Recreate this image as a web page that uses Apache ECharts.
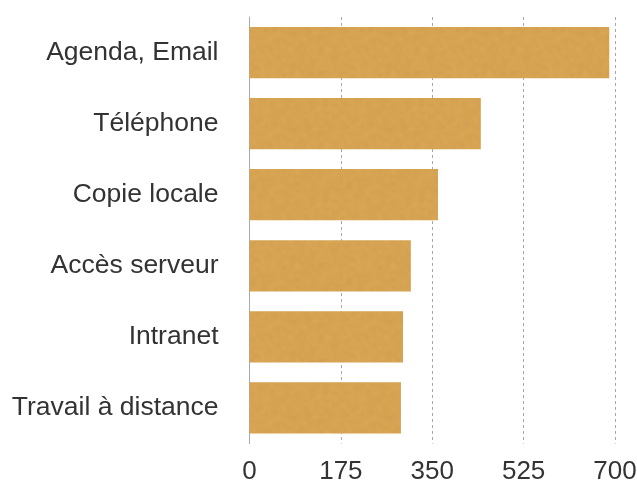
<!DOCTYPE html>
<html>
<head>
<meta charset="utf-8">
<script src="https://cdn.jsdelivr.net/npm/echarts@6/dist/echarts.min.js"></script>
<style>
  html, body { margin: 0; padding: 0; background: #fff; }
  #chart { width: 637px; height: 481px; }
</style>
</head>
<body>
<div id="chart"></div>
<script>
// Usage categories, top to bottom
const categories = ['Agenda, Email', 'Téléphone', 'Copie locale', 'Accès serveur', 'Intranet', 'Travail à distance'];
// Count per category
const values = [689, 443, 361, 309, 294, 290];
// Value axis ticks
const tickValues = [0, 175, 350, 525, 700];

// Mottled paper-like fill for the bars (deterministic hash noise, softened)
function makeBarTexture() {
  const size = 96;
  const raw = document.createElement('canvas');
  raw.width = raw.height = size;
  const rc = raw.getContext('2d');
  const img = rc.createImageData(size, size);
  const hash = (x, y) => {
    const s = Math.sin(x * 127.1 + y * 311.7) * 43758.5453;
    return s - Math.floor(s);
  };
  for (let y = 0; y < size; y++) {
    for (let x = 0; x < size; x++) {
      const n = hash(x, y) - 0.5;
      const i = (y * size + x) * 4;
      img.data[i] = 213 + n * 22;
      img.data[i + 1] = 163 + n * 20;
      img.data[i + 2] = 82 + n * 16;
      img.data[i + 3] = 255;
    }
  }
  rc.putImageData(img, 0, 0);
  const out = document.createElement('canvas');
  out.width = out.height = size;
  const oc = out.getContext('2d');
  oc.fillStyle = '#D5A352';
  oc.fillRect(0, 0, size, size);
  oc.filter = 'blur(1.5px)';
  for (let dx = -1; dx <= 1; dx++) {
    for (let dy = -1; dy <= 1; dy++) {
      oc.drawImage(raw, dx * size, dy * size);
    }
  }
  return out;
}

const chart = echarts.init(document.getElementById('chart'), null, { renderer: 'canvas' });

const fontFamily = '"Liberation Sans", Helvetica, Arial, sans-serif';

chart.setOption({
  animation: false,
  grid: { left: 249.5, right: 22, top: 17, bottom: 37.5, containLabel: false, outerBoundsMode: 'none' },
  xAxis: {
    type: 'value',
    min: tickValues[0],
    max: tickValues[tickValues.length - 1],
    interval: tickValues[1] - tickValues[0],
    axisLine: { show: false },
    axisTick: { show: false },
    axisLabel: { color: '#333', fontSize: 26, fontFamily: fontFamily, margin: 15 },
    splitLine: { show: true, lineStyle: { color: '#a8a8a8', type: [3, 3], width: 1 } }
  },
  yAxis: {
    type: 'category',
    data: categories,
    inverse: true,
    axisLine: { show: true, lineStyle: { color: '#aaa', width: 1 } },
    axisTick: { show: false },
    axisLabel: { color: '#333', fontSize: 26.5, fontFamily: fontFamily, margin: 31 }
  },
  series: [{
    type: 'bar',
    data: values,
    barWidth: '72%',
    itemStyle: { color: { image: makeBarTexture(), repeat: 'repeat' } }
  }]
});
</script>
</body>
</html>
